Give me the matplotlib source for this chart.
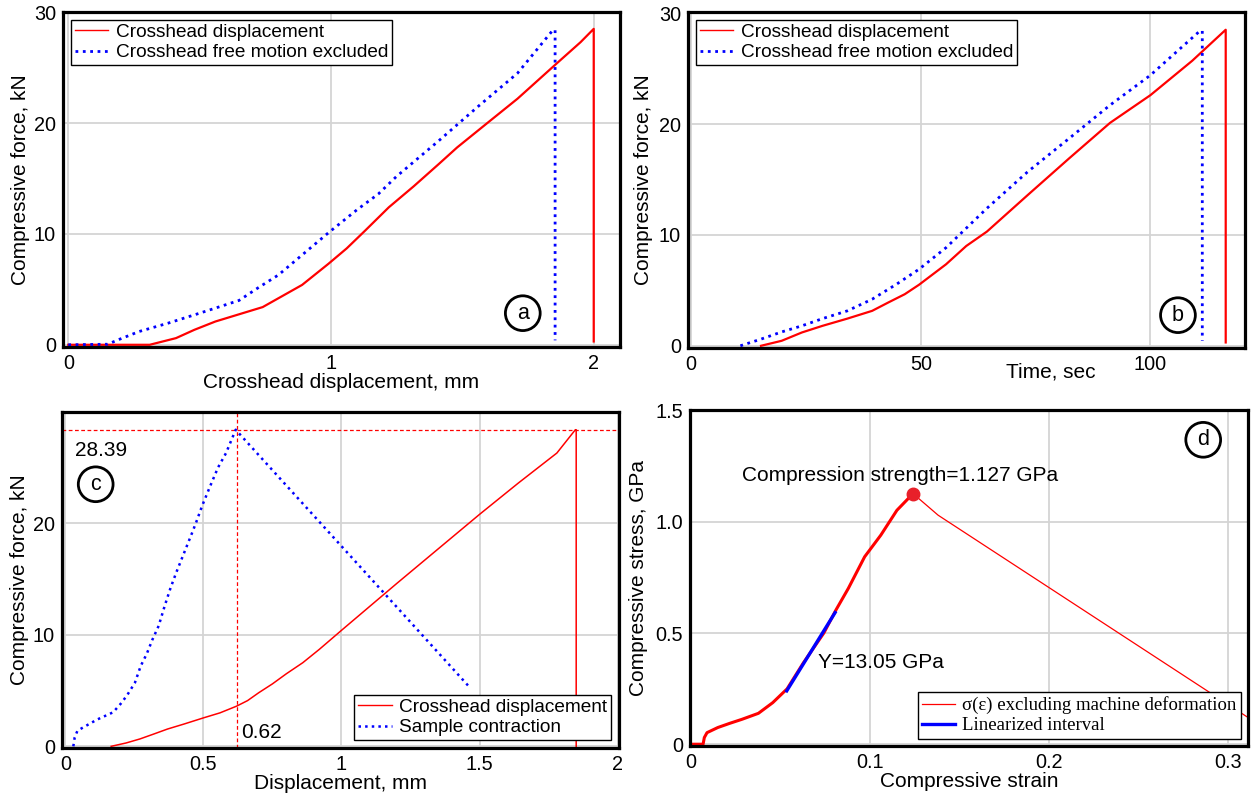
import matplotlib
matplotlib.use("Agg")
import matplotlib.pyplot as plt

plt.rcParams['font.family'] = ['Liberation Sans', 'DejaVu Sans']
plt.rcParams['font.size'] = 14

# (a) force vs crosshead displacement
a_red_x = [0, 0.31, 0.41, 0.48, 0.56, 0.65, 0.74, 0.80, 0.89, 0.99, 1.06, 1.13, 1.22, 1.315,
           1.41, 1.48, 1.60, 1.71, 1.86, 1.95, 2.0, 2.0]
a_red_y = [0, 0, 0.6, 1.35, 2.1, 2.75, 3.4, 4.2, 5.4, 7.3, 8.7, 10.3, 12.4, 14.3,
           16.3, 17.8, 20.1, 22.2, 25.4, 27.3, 28.5, 0.3]
a_blue_x = [0, 0.15, 0.19, 0.27, 0.38, 0.50, 0.65, 0.72, 0.80, 0.89, 0.99, 1.10, 1.18, 1.25,
            1.41, 1.56, 1.71, 1.845, 1.853, 1.853]
a_blue_y = [0, 0.05, 0.45, 1.2, 1.95, 2.85, 4.0, 5.1, 6.3, 8.1, 10.1, 12.2, 13.6, 15.2,
            18.4, 21.5, 24.5, 28.4, 28.4, 0.4]

# (b) force vs time
b_red_x = [15.2, 19.7, 24.1, 28.6, 34.0, 39.4, 42.9, 46.5, 49.6, 55.5, 59.9, 64.4, 73.3, 82.3,
           91.2, 100.0, 109.1, 116.4, 116.4]
b_red_y = [0, 0.45, 1.2, 1.8, 2.45, 3.15, 3.9, 4.65, 5.5, 7.35, 9.0, 10.3, 13.6, 16.9,
           20.1, 22.6, 25.7, 28.5, 0.3]
b_blue_x = [10.7, 15.2, 19.7, 24.1, 28.6, 34.0, 39.4, 44.7, 49.6, 55.5, 64.4, 73.3, 82.3, 91.2,
            100.0, 110.8, 111.3, 111.3]
b_blue_y = [0, 0.6, 1.25, 1.8, 2.45, 3.15, 4.2, 5.55, 6.9, 8.85, 12.4, 15.7, 18.7, 21.7,
            24.4, 28.4, 28.4, 0.45]

# (c) force vs displacement / sample contraction
c_red_x = [0.166, 0.22, 0.27, 0.32, 0.37, 0.43, 0.5, 0.56, 0.62, 0.66, 0.70, 0.75, 0.8, 0.86,
           0.92, 1.0, 1.1, 1.2, 1.35, 1.5, 1.64, 1.78, 1.847, 1.85, 1.85]
c_red_y = [0, 0.3, 0.66, 1.1, 1.55, 2.0, 2.55, 3.0, 3.6, 4.1, 4.8, 5.6, 6.5, 7.5,
           8.7, 10.4, 12.5, 14.6, 17.7, 20.8, 23.6, 26.3, 28.39, 28.39, 0]
c_blue_x = [0.029, 0.034, 0.044, 0.065, 0.115, 0.173, 0.2, 0.223, 0.252, 0.273, 0.295, 0.316,
            0.338, 0.36, 0.381, 0.402, 0.431, 0.46, 0.474, 0.496, 0.524, 0.553, 0.582, 0.617, 1.464]
c_blue_y = [0.0, 0.8, 1.4, 1.7, 2.4, 3.05, 3.8, 4.55, 5.7, 7.2, 8.3, 9.6,
            10.8, 12.6, 14.2, 15.6, 17.4, 19.2, 20.1, 21.6, 23.3, 25.0, 26.3, 28.39, 5.3]
c_peak_force = 28.39
c_peak_disp = 0.62

# (d) stress-strain
d_red_x = [0, 0.0068, 0.0075, 0.009, 0.015, 0.0217, 0.0285, 0.0377, 0.0457, 0.0537, 0.0628,
           0.0742, 0.081, 0.0879, 0.097, 0.106, 0.115, 0.124]
d_red_y = [0, 0, 0.03, 0.052, 0.075, 0.094, 0.112, 0.139, 0.187, 0.249, 0.366,
           0.5, 0.604, 0.701, 0.843, 0.94, 1.052, 1.127]
d_post_x = [0.124, 0.138, 0.32]
d_post_y = [1.127, 1.03, 0.073]
d_lin_x = [0.0535, 0.0805]
d_lin_y = [0.24, 0.592]
d_peak = (0.124, 1.127)

W, H = 1259, 801
fig = plt.figure(figsize=(W / 100, H / 100), dpi=100)


def make_ax(l, t, r, b):
    ax = fig.add_axes([l / W, 1 - b / H, (r - l) / W, (b - t) / H])
    for s in ax.spines.values():
        s.set_linewidth(2.3)
        s.set_color('black')
    ax.grid(True, color='#d4d4d4', lw=1.3)
    ax.set_axisbelow(True)
    ax.tick_params(length=0, pad=5, labelsize=14.3)
    return ax


def circ(ax, x, y, s):
    ax.text(x, y, s, ha='center', va='center', fontsize=15.5, zorder=6,
            bbox=dict(boxstyle='circle,pad=0.32', fc='white', ec='black', lw=2))


leg_kw = dict(fancybox=False, edgecolor='black', framealpha=1, fontsize=13.7,
              handlelength=1.75, handletextpad=0.4, borderpad=0.22, labelspacing=0.15,
              borderaxespad=0.4)

# ---- a
ax = make_ax(63, 12, 620, 347)
ax.plot(a_red_x, a_red_y, color='red', lw=1.6, label='Crosshead displacement')
ax.plot(a_blue_x, a_blue_y, color='blue', lw=2, ls=':', label='Crosshead free motion excluded')
ax.set_xlim(-0.02, 2.1)
ax.set_ylim(-0.2, 30.02)
ax.set_xticks([0, 1, 2])
ax.set_yticks([0, 10, 20, 30])
ax.set_xlabel('Crosshead displacement, mm', fontsize=15)
ax.xaxis.set_label_coords(0.5, -0.078)
ax.set_ylabel('Compressive force, kN', fontsize=15)
ax.yaxis.set_label_coords(-0.06, 0.5)
leg = ax.legend(loc='upper left', **leg_kw)
leg.get_frame().set_linewidth(1)
leg.get_lines()[0].set_linewidth(1)
circ(ax, 1.73, 2.85, 'a')

# ---- b
ax = make_ax(688, 12, 1245, 348)
ax.plot(b_red_x, b_red_y, color='red', lw=1.6, label='Crosshead displacement')
ax.plot(b_blue_x, b_blue_y, color='blue', lw=2, ls=':', label='Crosshead free motion excluded')
ax.set_xlim(-0.7, 120.6)
ax.set_ylim(-0.2, 30.1)
ax.set_xticks([0, 50, 100])
ax.set_yticks([0, 10, 20, 30])
ax.set_xlabel('Time, sec', fontsize=15)
ax.xaxis.set_label_coords(0.651, -0.042)
ax.set_ylabel('Compressive force, kN', fontsize=15)
ax.yaxis.set_label_coords(-0.063, 0.5)
leg = ax.legend(loc='upper left', **leg_kw)
leg.get_frame().set_linewidth(1)
leg.get_lines()[0].set_linewidth(1)
circ(ax, 106, 2.76, 'b')

# ---- c
ax = make_ax(62, 412, 619, 748)
ax.axhline(c_peak_force, color='red', lw=0.9, ls=(0, (3, 2)), zorder=1.5)
ax.axvline(c_peak_disp, color='red', lw=0.9, ls=(0, (3, 2)), zorder=1.5)
ax.plot(c_red_x, c_red_y, color='red', lw=1.1, label='Crosshead displacement')
ax.plot(c_blue_x, c_blue_y, color='blue', lw=1.8, ls=':', label='Sample contraction')
ax.set_xlim(-0.012, 2.005)
ax.set_ylim(-0.15, 29.98)
ax.set_xticks([0, 0.5, 1, 1.5, 2])
ax.set_xticklabels(['0', '0.5', '1', '1.5', '2'])
ax.set_yticks([0, 10, 20])
ax.set_xlabel('Displacement, mm', fontsize=15)
ax.xaxis.set_label_coords(0.5, -0.078)
ax.set_ylabel('Compressive force, kN', fontsize=15)
ax.yaxis.set_label_coords(-0.06, 0.5)
ax.text(0.035, 26.5, f'{c_peak_force:.2f}', ha='left', va='center', fontsize=15)
ax.text(0.635, 1.25, f'{c_peak_disp:.2f}', ha='left', va='center', fontsize=15)
leg = ax.legend(loc='lower right', **leg_kw)
leg.get_frame().set_linewidth(1)
leg.get_lines()[0].set_linewidth(1)
circ(ax, 0.11, 23.5, 'c')

# ---- d
ax = make_ax(690, 410, 1248, 746)
ax.plot(d_red_x, d_red_y, color='red', lw=2.2, solid_capstyle='round')
ax.plot(d_post_x, d_post_y, color='red', lw=0.9, label='σ(ε) excluding machine deformation')
ax.plot(d_lin_x, d_lin_y, color='blue', lw=2.4, label='Linearized interval')
ax.plot(*d_peak, 'o', color='#e8202a', ms=9, zorder=5)
ax.set_xlim(-0.0005, 0.311)
ax.set_ylim(-0.008, 1.503)
ax.set_xticks([0, 0.1, 0.2, 0.3])
ax.set_xticklabels(['0', '0.1', '0.2', '0.3'])
ax.set_yticks([0, 0.5, 1.0, 1.5])
ax.set_yticklabels(['0', '0.5', '1.0', '1.5'])
ax.set_xlabel('Compressive strain', fontsize=15)
ax.xaxis.set_label_coords(0.5, -0.078)
ax.set_ylabel('Compressive stress, GPa', fontsize=15)
ax.yaxis.set_label_coords(-0.075, 0.5)
ax.text(0.117, 1.209, f'Compression strength={d_peak[1]:.3f} GPa', ha='center', va='center',
        fontsize=15)
ax.text(0.071, 0.366, 'Y=13.05 GPa', ha='left', va='center', fontsize=15)
leg_d = dict(leg_kw)
leg_d['prop'] = {'family': 'Liberation Serif', 'size': 13.5}
leg_d.pop('fontsize')
leg = ax.legend(loc='lower right', **leg_d)
leg.get_frame().set_linewidth(1)
circ(ax, 0.286, 1.369, 'd')

fig.savefig('out.png', dpi=100)
